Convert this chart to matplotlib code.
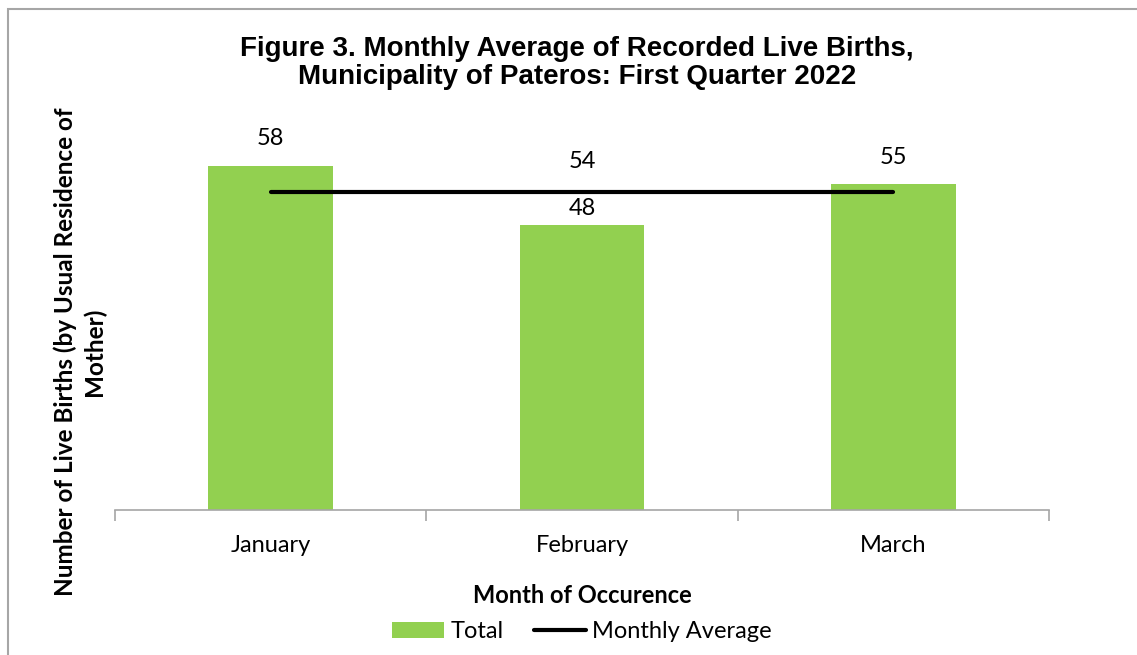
import matplotlib.pyplot as plt
from matplotlib.patches import Rectangle

months = ['January', 'February', 'March']
total = [58, 48, 55]
monthly_average = [53.67, 53.67, 53.67]
average_label = '54'

plt.rcParams['font.family'] = ['Lato', 'DejaVu Sans']

fig = plt.figure(figsize=(11.37, 6.55), dpi=100)
W, H = 1137, 655
ax = fig.add_axes([115 / W, 145 / H, (1049 - 115) / W, 415 / H])

x = list(range(len(months)))
bars = ax.bar(x, total, width=0.4, color='#92D050', label='Total', zorder=2)
line, = ax.plot(x, monthly_average, color='black', lw=3, solid_capstyle='round',
                label='Monthly Average', zorder=3)

ax.set_xlim(-0.5, 2.5)
ax.set_ylim(0, 70)

# excel nudges the february label down so it clears the average line
offsets = [20, 12, 19]
for xi, v, off in zip(x, total, offsets):
    ax.annotate(str(v), (xi, v), xytext=(0, off), textcoords='offset points',
                ha='center', va='center', fontsize=17)
ax.annotate(average_label, (1, monthly_average[1]), xytext=(0, 22),
            textcoords='offset points', ha='center', va='center', fontsize=17)

for s in ['top', 'right', 'left']:
    ax.spines[s].set_visible(False)
ax.spines['bottom'].set_color('#A6A6A6')
ax.spines['bottom'].set_linewidth(1.2)
ax.set_yticks([])
ax.set_xticks([-0.5, 0.5, 1.5, 2.5])
ax.set_xticklabels([])
ax.tick_params(axis='x', length=8, color='#A6A6A6', width=1.2)
ax.set_xticks(x, minor=True)
ax.set_xticklabels(months, minor=True, fontsize=17)
ax.tick_params(axis='x', which='minor', length=0, pad=18)

ax.set_xlabel('Month of Occurence', fontsize=17, fontweight='bold', labelpad=20)
fig.text(80 / W, 1 - 352 / H, 'Number of Live Births (by Usual Residence of\nMother)',
         rotation=90, ha='center', va='center', fontsize=17.5, fontweight='bold',
         linespacing=1.3)

fig.text(577 / W, 1 - 63 / H,
         'Figure 3. Monthly Average of Recorded Live Births,\nMunicipality of Pateros: First Quarter 2022',
         ha='center', va='center', fontsize=20, fontweight='bold',
         family='Liberation Sans', linespacing=1.15)

leg = fig.legend([bars, line], ['Total', 'Monthly Average'], loc='center',
                 bbox_to_anchor=(582 / W, 1 - 632 / H), ncol=2,
                 frameon=False, fontsize=17, handlelength=2.2, handleheight=0.65,
                 columnspacing=1.3, handletextpad=0.25)

fig.patches.append(Rectangle((8 / W, -0.1), 1.2, 1 - 9.5 / H + 0.1,
                             transform=fig.transFigure, fill=False,
                             edgecolor='#A6A6A6', lw=1.5))

fig.savefig('out.png', dpi=100)
